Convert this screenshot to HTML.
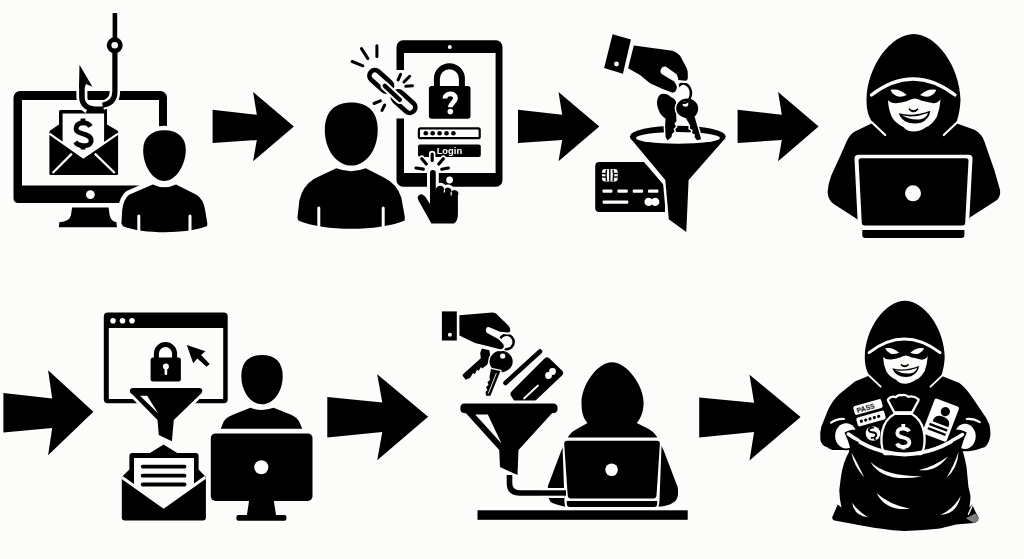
<!DOCTYPE html>
<html><head><meta charset="utf-8"><style>
html,body{margin:0;padding:0;background:#fcfcfa;}
svg{display:block;}
</style></head><body>
<svg width="1024" height="559" viewBox="0 0 1024 559" font-family="Liberation Sans, sans-serif">
<defs><filter id="gs" x="-5%" y="-5%" width="110%" height="110%"><feOffset dx="0" dy="0"/></filter></defs>
<rect width="1024" height="559" fill="#fcfcfa"/>
<g fill="#000">
<!-- ================= ROW 1 ================= -->
<!-- arrows -->
<polygon points="212.6,109.8 256.8,114.8 253.1,91.9 293.9,126.5 253.1,161.3 256.8,140 212.6,143"/>
<polygon points="518,109.8 562.2,114.8 558.5,91.9 599.3,126.5 558.5,161.3 562.2,140 518,143"/>
<polygon points="737.6,109.8 781.8,114.8 778.1,91.9 818.6,126.5 778.1,161.3 781.8,140 737.6,143"/>

<!-- ICON 1: phishing monitor -->
<path fill-rule="evenodd" d="M20,91 H160.5 A6.5,6.5 0 0 1 167,97.5 V198.6 A4.5,4.5 0 0 1 162.5,203.1 H18 A4.5,4.5 0 0 1 13.5,198.6 V97.5 A6.5,6.5 0 0 1 20,91 Z M22,100 V185.5 H159 V100 Z"/>
<circle cx="90.4" cy="194.6" r="4.4" fill="#fcfcfa"/>
<path d="M72.1,207.6 H108.6 L109.6,215 Q111,221.5 116.5,222.3 L116.9,227.2 H58.9 L59.3,222.3 Q69.8,221.5 71,215 Z"/>
<!-- envelope -->
<rect x="49.4" y="130.8" width="68.7" height="44.3" rx="1.5"/>
<polygon points="49.4,131 59,124.5 107,124.5 118.1,131"/>
<!-- letter -->
<rect x="59" y="110" width="48" height="40" rx="1.5"/>
<polygon fill="#fcfcfa" points="62.6,113.6 104.1,113.6 104.1,143.4 83.3,157.5 62.6,142.9"/>
<!-- front flap V line -->
<polyline points="49.4,133.6 83.3,157.5 118.1,133.6" fill="none" stroke="#fcfcfa" stroke-width="2.2"/>
<line x1="52.6" y1="173" x2="71.9" y2="153.6" stroke="#fcfcfa" stroke-width="2.2"/>
<line x1="114.8" y1="173" x2="94.8" y2="153.6" stroke="#fcfcfa" stroke-width="2.2"/>
<!-- dollar -->
<g fill="none" stroke="#000" stroke-width="4.8" stroke-linecap="butt">
<path d="M90.5,126.5 C88,122 78.5,121.5 76.5,126.5 C74.5,132 80,133 83,133.8 C88,135 92,137 91,141.8 C89.5,147 79,147 75.3,142"/>
<path d="M83,118.6 V123 M83,145 V149.4"/>
</g>
<!-- hook -->
<g fill="none" stroke-linecap="butt">
<path d="M114.9,13 V38" stroke="#000" stroke-width="4.6"/>
<circle cx="114.7" cy="45.3" r="5.65" stroke="#000" stroke-width="4.7"/>
<path d="M114.9,84 V91.5 C114.9,100 110,104 103.5,105.5" stroke="#fcfcfa" stroke-width="10.4"/>
<path d="M81.9,84 V97 C81.9,103 84,106 88,108" stroke="#fcfcfa" stroke-width="11"/>
<path d="M81.9,84 V97 C81.9,105 88,109 96,109.2 H107" stroke="#000" stroke-width="5.6"/>
<path d="M114.9,92 C114.9,100 110.5,104 103,105.6" stroke="#fcfcfa" stroke-width="8.6"/>
<path d="M114.9,50 V91.5 C114.9,99.5 110.5,104 102.5,105.2" stroke="#000" stroke-width="5.2"/>
</g>
<polygon points="79.5,64.7 92.4,86.7 86,84 84.8,87.5 79,87.5"/>
<!-- person 1 -->
<g stroke="#fcfcfa" stroke-width="9" paint-order="stroke">
<path d="M152.8,184.4 Q164.4,190 176,184.4 L196.4,194.8 Q203.4,199 205.1,210 L207.4,223.8 Q207,226 206.9,226 C187,234.2 143,234.2 123.1,226.2 L121.4,223.8 L122.2,209.9 Q123.7,199 129,194.8 Z"/>
<path d="M164.5,130.3 C177.5,130.3 186,137.5 185.8,150 C185.6,165 176,181 164.3,181 C152.5,181 143,165 143.2,150 C143.2,137.5 151.5,130.3 164.5,130.3 Z"/>
</g>
<g stroke="#fcfcfa" stroke-width="3" stroke-linecap="round">
<line x1="138.8" y1="216" x2="138.8" y2="236"/>
<line x1="190" y1="216" x2="190" y2="236"/>
</g>

<!-- ICON 2: person 2 + tablet -->
<!-- tablet -->
<path fill-rule="evenodd" d="M403,40.3 H496 A6.5,6.5 0 0 1 502.5,46.8 V180.2 A6.5,6.5 0 0 1 496,186.7 H403 A6.5,6.5 0 0 1 396.5,180.2 V46.8 A6.5,6.5 0 0 1 403,40.3 Z M404,52.9 V173 H495.6 V52.9 Z"/>
<circle cx="449.8" cy="47" r="2" fill="#fcfcfa"/>
<circle cx="449.6" cy="180" r="3.4" fill="#fcfcfa"/>
<!-- lock -->
<rect x="428.9" y="86" width="41.6" height="32.8" rx="2.8"/>
<path d="M436.9,87 V78.8 A12.5,12.5 0 0 1 461.9,78.8 V87" fill="none" stroke="#000" stroke-width="6"/>
<path d="M445,98.5 C445,92.5 455.5,92.5 455.5,98 C455.5,102.5 450.3,103 450.3,107.3" fill="none" stroke="#fcfcfa" stroke-width="4.8"/>
<circle cx="450.3" cy="111.6" r="2.8" fill="#fcfcfa"/>
<!-- password field -->
<rect x="418.9" y="128.4" width="60.8" height="9.8" rx="1.5" fill="#fcfcfa" stroke="#000" stroke-width="2.2"/>
<circle cx="425.8" cy="133.3" r="2.3"/><circle cx="432.7" cy="133.3" r="2.3"/><circle cx="439.6" cy="133.3" r="2.3"/><circle cx="446.5" cy="133.3" r="2.3"/><circle cx="453.4" cy="133.3" r="2.3"/>
<!-- login -->
<rect x="418" y="144.6" width="62.8" height="12.4" rx="2"/>
<text filter="url(#gs)" x="449.4" y="153.9" font-size="9.4" font-weight="bold" fill="#fcfcfa" text-anchor="middle">Login</text>
<!-- chain with halo -->
<rect x="395" y="70" width="10" height="48.5" fill="#fcfcfa"/>
<g fill="none" stroke-linecap="round">
<g stroke="#000" stroke-width="4.7">
<rect x="367.4" y="75.45" width="26.6" height="10.9" rx="5.45" transform="rotate(42 380.7 80.9)"/>
<rect x="390.7" y="96.65" width="26.6" height="10.9" rx="5.45" transform="rotate(42 404 102.1)"/>
</g>
<line x1="384.8" y1="85.8" x2="399.8" y2="99.8" stroke="#fcfcfa" stroke-width="8.6"/>
<line x1="384.8" y1="85.8" x2="399.8" y2="99.8" stroke="#000" stroke-width="4.4"/>
<g stroke="#000" stroke-width="3">
<line x1="352.2" y1="61.5" x2="362.9" y2="65.8"/>
<line x1="361.5" y1="48.6" x2="367.9" y2="58.6"/>
<line x1="376.9" y1="45.7" x2="376.9" y2="56.5"/>
<line x1="398.1" y1="79.9" x2="400.6" y2="74.3"/>
<line x1="404" y1="82" x2="409.7" y2="76.3"/>
<line x1="405.8" y1="86.3" x2="412.4" y2="85.8"/>
<line x1="374" y1="103.5" x2="380.4" y2="100.8"/>
<line x1="382" y1="110.4" x2="384.7" y2="105"/>
</g>
</g>
<!-- person 2 -->
<g stroke="#fcfcfa" stroke-width="6" paint-order="stroke">
<path d="M336.3,168.3 Q351,174 365.8,168.3 L383.9,177.4 Q397.3,184 401.3,197.6 L404.7,216.3 L404.7,220.4 C378,231.5 324.5,231.5 298.3,220.4 L297.4,217.7 L299.4,200.2 Q302.7,186 314.1,178.8 Z"/>
<path d="M351.3,102.6 C368,102.6 377.7,112 377.7,130 C377.7,150 366,165.6 351.3,165.6 C336.6,165.6 324.8,150 324.8,130 C324.8,112 334.6,102.6 351.3,102.6 Z"/>
</g>
<g stroke="#fcfcfa" stroke-width="3" stroke-linecap="round">
<line x1="318.8" y1="208" x2="318.8" y2="232"/>
<line x1="383.2" y1="208" x2="383.2" y2="232"/>
</g>
<!-- hand pointing -->
<g stroke="#fcfcfa" stroke-width="6" paint-order="stroke" stroke-linejoin="round">
<path d="M430,204 V172.9 A2.9,2.9 0 0 1 435.8,172.9 V190 A4.2,4.2 0 0 1 444.4,190 A3.4,3.4 0 0 1 451.2,192.2 A3.35,3.35 0 0 1 457.9,195.5 V214.3 Q457.9,221 454,223.6 H431.4 L418.5,200.5 Q416.5,196.5 419.5,194.8 Q422.5,193.3 425.5,197 L430,204 Z"/>
</g>
<path d="M444.4,189.5 V192.5 M451.2,192 V195.5" stroke="#fcfcfa" stroke-width="1.2" fill="none"/>
<g stroke="#fcfcfa" stroke-width="6.5" stroke-linecap="round" fill="none">
<line x1="432.2" y1="154" x2="432.2" y2="160.5"/>
<line x1="421.8" y1="158.8" x2="426.3" y2="164"/>
<line x1="443.3" y1="158.8" x2="438.8" y2="164"/>
</g>
<g stroke="#000" stroke-width="3.2" stroke-linecap="round" fill="none">
<line x1="432.2" y1="154" x2="432.2" y2="160.5"/>
<line x1="421.8" y1="158.8" x2="426.3" y2="164"/>
<line x1="443.3" y1="158.8" x2="438.8" y2="164"/>
<line x1="416" y1="168" x2="423.3" y2="169.2"/>
<line x1="441.8" y1="169.2" x2="448.4" y2="168"/>
</g>

<!-- ICON 3: hand keys funnel card -->
<!-- card -->
<path d="M599.2,162.1 H644 L663.3,184.6 Q665,186 665,188 V212 H599.2 Q595.2,212 595.2,208 V166.1 Q595.2,162.1 599.2,162.1 Z" stroke="#fcfcfa" stroke-width="0"/>
<g fill="#fcfcfa">
<rect x="602.5" y="189.4" width="9.9" height="3.4" rx="1"/>
<rect x="617.4" y="189.4" width="10.4" height="3.4" rx="1"/>
<rect x="632.7" y="189.4" width="10.4" height="3.4" rx="1"/>
<rect x="648" y="189.4" width="10.4" height="3.4" rx="1"/>
<rect x="602.6" y="200.6" width="25.7" height="3.2" rx="1"/>
<circle cx="648.6" cy="201.9" r="4.2"/><circle cx="655.2" cy="201.9" r="4.2"/>
<rect x="602" y="169" width="15.7" height="12.4" rx="3"/>
</g>
<g fill="none" stroke="#000" stroke-width="1.4">
<line x1="609.8" y1="169" x2="609.8" y2="181.4"/>
<path d="M606.5,169.5 Q605.5,175.2 606.5,181 M613.1,169.5 Q614.1,175.2 613.1,181"/>
<line x1="602" y1="173.5" x2="606" y2="173.5"/><line x1="602" y1="177" x2="606" y2="177"/>
<line x1="613.7" y1="173.5" x2="617.7" y2="173.5"/><line x1="613.7" y1="177" x2="617.7" y2="177"/>
</g>
<!-- funnel -->
<g fill="#fcfcfa" stroke="#fcfcfa" stroke-width="5">
<path d="M630.2,138 L665.3,180 L668.8,219.3 L686.3,232 L688.6,180 L725.5,138 Z"/>
<ellipse cx="677.8" cy="136.5" rx="48" ry="11"/>
</g>
<path d="M630.2,138 L665.3,180 L668.8,219.3 L686.3,232 L688.6,180 L725.5,138 Z"/>
<ellipse cx="677.8" cy="136.5" rx="48" ry="10.8"/>
<ellipse cx="678" cy="137.9" rx="42" ry="5.9" fill="#fcfcfa"/>
<!-- cuff -->
<polygon points="612.6,34.2 630.9,39.5 622.9,73.8 604.1,68.1"/>
<circle cx="616.5" cy="64" r="2.4" fill="#fcfcfa"/>
<!-- keys -->
<g stroke="#fcfcfa" stroke-width="3" paint-order="stroke" stroke-linejoin="round">
<path d="M661.6,94 Q667,93 671,97 Q676,99 676.5,104 Q677.5,110 676.2,116 L676.5,121 L674.5,123.5 L676,126.5 L673.5,129 L674.5,131.5 L672,134 L671.5,137 L667.4,140.5 L665.6,137 L665.1,126 L665.5,118.4 Q661,116 659,111 Q656,104 657.5,99 Q659,94.5 661.6,94 Z"/>
<path d="M687.2,98.5 C693.5,98.5 698.2,103 698.2,108.5 C698.2,112.5 696,115.5 694.5,116.5 L701.2,139.3 L697,140.2 L694.5,137 L695,134.5 L692,133 L692.7,130 L689.8,128.5 L690.2,125.5 L685.8,118 C680.5,117 676.2,113.5 676.2,108.5 C676.2,103 680.9,98.5 687.2,98.5 Z"/>
</g>
<circle cx="685.5" cy="103.8" r="2.9" fill="#fcfcfa"/>
<path d="M676.6,89.9 A7.4,9.6 0 1 1 682.3,102.65" fill="none" stroke="#000" stroke-width="2.5"/>
<!-- hand -->
<path stroke="#fcfcfa" stroke-width="4.4" paint-order="stroke" stroke-linejoin="round" d="M633.8,45.6 L672.6,50.7 Q677,52 680.1,55.7 L686.4,67.6 Q688,71 687.8,74 L687.8,78.3 Q687.5,80.8 685.4,80.8 L678.2,80 L678.2,78.3 L676.6,74.3 L666.1,66.7 A4.4,4.4 0 0 0 662.1,74.3 L674.2,81.6 L676,84.5 Q677.5,87 676.6,88.8 Q675.5,93 672,92.6 L662.1,88.8 L650,83.2 L640,75.1 L628.1,68.2 Z"/>

<!-- ICON 4: hacker 1 -->
<path d="M956.2,123.2 L974.4,129.8 Q982,134 984.4,141.5 L994.3,170 L1000,189.7 Q1001,196 997,200 L969.8,217.5 L966,228 H861 L857.4,219.2 L833.7,204 Q828,200 827.6,192 Q828,184 831.4,175.2 L840,156.4 L846.6,141.5 Q850,134 854.9,131.5 L872.5,123 L913,118 Z"/>
<g>
<path d="M913.8,33.9 C936,34 960,66 960.5,100 C960,112 957.5,118.5 956.5,122.5 L944,135 H885 L872.5,122.5 C868.5,117 866.5,110 866.5,100 C867,66 891,34 913.8,33.9 Z"/>
<g fill="none" stroke="#fcfcfa" stroke-width="2.2" stroke-linecap="round">
<path d="M871.5,122 L885.2,135"/>
<path d="M957.5,122 L943.8,135"/>
</g>
<path d="M871.5,95 Q913,63 955,95" fill="none" stroke="#fcfcfa" stroke-width="3.4" stroke-linecap="round"/>
<path fill="#fcfcfa" d="M888,92 Q913,82 938.7,92 L940.5,99.7 Q940,108 937,116.5 Q932,125 926.5,127 Q920,131.6 913.7,131.6 Q907,131.6 903.3,127 Q895,123 891.6,116.5 Q888,108 888.1,100.2 Z"/>
<path d="M886,88 Q913,78 940,88 L940.5,99.7 Q936,104 932.3,103.1 Q926,101.5 921.9,100.8 Q918,99 914.9,98.5 Q911,99 907.9,100.8 Q903,102.5 897.4,103.1 Q891,103.5 888.1,100.2 Z"/>
<path fill="#fcfcfa" d="M890.5,89.8 Q899.5,88 906.8,95 Q901,97.8 896.5,96 Q892,94 890.5,89.8 Z"/>
<path fill="#fcfcfa" d="M936.3,89.8 Q927.3,88 920,95 Q925.8,97.8 930.3,96 Q934.8,94 936.3,89.8 Z"/>
<path d="M909,109 Q913.5,112.5 918,109 Q913.5,114 909,109 Z" stroke="#000" stroke-width="1.5"/>
<path d="M898.8,113.3 Q913,117.2 930.3,110.8 Q929.5,119 921,122.8 Q912,125 905,121.2 Q900.3,118 898.8,113.3 Z"/>
<path fill="#fcfcfa" d="M901.8,115.3 Q914,118.3 928,113 Q926.8,117.6 921,119.2 Q911.5,120.8 901.8,115.3 Z"/>
</g>
<!-- laptop -->
<path d="M858.5,154.7 H968.7 Q972.7,154.7 972.5,158.7 L969,224.4 Q968.8,228.4 964.8,228.4 H862 Q858,228.4 857.8,224.4 L854.5,158.7 Q854.5,154.7 858.5,154.7 Z" fill="#fcfcfa"/>
<path d="M861,158.3 H966 Q968.6,158.3 968.5,161 L965.2,223 Q965,225.5 962.5,225.5 H864.5 Q862,225.5 861.8,223 L858.6,161 Q858.5,158.3 861,158.3 Z"/>
<circle cx="913" cy="193.3" r="8" fill="#fcfcfa"/>
<path d="M862.3,230 H964.4 V235 Q964.4,238 961.4,238 H865.3 Q862.3,238 862.3,235 Z"/>
<rect x="855" y="228.4" width="120" height="1.6" fill="#fcfcfa"/>

<!-- ================= ROW 2 ================= -->
<polygon points="3.4,393 52.2,398.5 48.1,370.2 93.4,411.8 48.1,455.3 52.2,427.9 3.4,432.4"/>
<polygon points="327.3,397.1 382.3,402.4 377.2,374.2 428.1,416.8 377.2,460.3 382.3,432.1 327.3,437.4"/>
<polygon points="699.2,397.6 754.1,402.7 749.5,374.7 800.6,416.9 749.5,460.4 754.1,432 699.2,437.5"/>

<!-- ICON 5: browser + funnel + envelope + person/monitor -->
<path fill-rule="evenodd" d="M107.8,312.5 H223.7 A4,4 0 0 1 227.7,316.5 V399.2 A4,4 0 0 1 223.7,403.2 H107.8 A4,4 0 0 1 103.8,399.2 V316.5 A4,4 0 0 1 107.8,312.5 Z M108.8,328 V398.9 H223.2 V328 Z"/>
<g fill="#fcfcfa"><circle cx="113" cy="320.8" r="2.8"/><circle cx="122.5" cy="320.8" r="2.8"/><circle cx="132" cy="320.8" r="2.8"/></g>
<rect x="150.6" y="357.6" width="30.3" height="23.8" rx="2.5"/>
<path d="M156.4,358.5 V353.6 A9.1,9.1 0 0 1 174.6,353.6 V358.5" fill="none" stroke="#000" stroke-width="5"/>
<circle cx="165.9" cy="366.4" r="3" fill="#fcfcfa"/>
<rect x="164.6" y="366.4" width="2.6" height="8.6" rx="1" fill="#fcfcfa"/>
<polygon points="186.8,345 205.4,351.3 201.1,355 209.7,364 206.5,366.8 197.3,358.5 193.2,363.3"/>
<!-- funnel 2a -->
<g stroke="#fcfcfa" stroke-width="6" paint-order="stroke" stroke-linejoin="round">
<path d="M133,388.1 H199 Q202.5,388.1 202.3,391 Q202,393.8 200.1,394.4 L173.8,420 L171.9,441.3 L158.8,435 L157.5,420 L132.5,394.4 Q129.8,393.5 129.8,391 Q130,388.1 133,388.1 Z"/>
</g>
<polygon fill="#fcfcfa" points="140,395.8 147.2,395.8 158.2,413.5"/>
<!-- envelope 2 -->
<polygon points="163.6,444.6 150,452.9 177.3,452.9"/>
<path d="M121.8,477 L129.4,469.6 L198.6,469.6 L205.9,477 V517.5 Q205.9,520.5 202.9,520.5 H124.8 Q121.8,520.5 121.8,517.5 Z"/>
<rect x="129.4" y="452.9" width="69.2" height="40" rx="3"/>
<path fill="#fcfcfa" d="M134,458 H194 V485.3 L163.6,506.9 L134,485.9 Z"/>
<polyline points="121.8,477.2 163.6,506.9 205.4,477.2" fill="none" stroke="#fcfcfa" stroke-width="3"/>
<g stroke="#000" stroke-width="3.8" stroke-linecap="round">
<line x1="142.7" y1="466.6" x2="184.5" y2="466.6"/>
<line x1="142.7" y1="475.7" x2="184.5" y2="475.7"/>
<line x1="142.7" y1="484.5" x2="184.5" y2="484.5"/>
</g>
<!-- person row2 -->
<path d="M250.4,407.8 Q262,412 273.7,407.8 L291.1,414.8 Q297,417.5 299.3,421.8 L302.3,428.8 H220.8 L223.6,421.8 Q226,417.5 232.9,414.8 Z"/>
<path stroke="#fcfcfa" stroke-width="6" paint-order="stroke" d="M262,354.9 C275,354.9 282.7,362 282.7,376 C282.7,392 273,404.3 262,404.3 C251,404.3 241.3,392 241.3,376 C241.3,362 249,354.9 262,354.9 Z"/>
<!-- monitor row2 -->
<rect x="210.8" y="433.4" width="101.7" height="67.5" rx="4.7"/>
<circle cx="261.3" cy="467.2" r="7" fill="#fcfcfa"/>
<path d="M249.2,500 H273.7 L276,514.9 H246.9 Z"/>
<rect x="236.4" y="514.9" width="50.1" height="5.8" rx="2.2"/>

<!-- ICON 6: hand/keys/card/funnel/hacker2 -->
<rect x="441.9" y="311.4" width="14.9" height="29.1"/>
<circle cx="449.9" cy="334.8" r="2" fill="#fcfcfa"/>

<!-- card -->
<g stroke="#fcfcfa" stroke-width="3" paint-order="stroke">
<line x1="505.5" y1="383" x2="540" y2="351.5" stroke="#000" stroke-width="4.6" stroke-linecap="round"/>
</g>
<path stroke="#fcfcfa" stroke-width="3" paint-order="stroke" d="M512,391 L545,358 Q547,356.5 549,358 L562.5,371 Q564,373 562.5,375 L534,402 L515,402 L510.5,395 Q509.8,393 512,391 Z"/>
<circle cx="548.5" cy="375.5" r="3.4" fill="#fcfcfa"/><circle cx="552.5" cy="371.5" r="3.4" fill="#fcfcfa"/>
<line x1="524" y1="398.5" x2="538" y2="385.5" stroke="#fcfcfa" stroke-width="1.8" stroke-linecap="round"/>
<!-- keys row2 -->
<g stroke="#fcfcfa" stroke-width="2.6" paint-order="stroke" stroke-linejoin="round">
<path d="M481.8,348.6 L489.3,350.2 L490.4,356.1 L487.2,364.7 L483.5,367.5 L482.4,368.4 L481,367 L478.6,371.1 L477,369.5 L474.8,374.3 L473,373 L470,378.1 L465.7,379.7 L462.5,375.4 L463,374.3 L480.8,358.2 L480.2,352.9 Z"/>
<ellipse cx="501.1" cy="361.5" rx="11.6" ry="10.7"/>
<path d="M491,369 L500.5,371 L490.4,395.8 L486.1,395.8 L485.5,392 L487.5,390 L486,387 L488.5,385 L487.5,382 L490,380 L489.5,377 Z"/>
</g>
<line x1="496.3" y1="373.3" x2="488.3" y2="393.6" stroke="#fcfcfa" stroke-width="0.9"/>
<circle cx="502.7" cy="356.1" r="2.6" fill="#fcfcfa"/>
<circle cx="506.5" cy="342" r="7.2" fill="none" stroke="#000" stroke-width="2.5"/>
<path stroke="#fcfcfa" stroke-width="4" paint-order="stroke" stroke-linejoin="round" d="M459.4,315.3 L492.4,312.4 Q495,312.3 496.5,314 L508.6,325.7 Q510.5,328 510.2,331 Q509.8,332.5 508,332.5 L500,331.8 L489.3,327.2 Q486.3,326.5 485.8,329.5 Q485.8,332 487.2,332.9 L498.6,339.3 L502.2,342.9 Q504.5,345 503.6,347.5 Q502.5,349.5 500,349.3 L489.3,346.5 L475,342.9 L459.4,335.5 Z"/>
<!-- funnel 2b -->
<g stroke="#fcfcfa" stroke-width="6" paint-order="stroke" stroke-linejoin="round">
<path d="M464.5,403.5 H553 Q557.6,403.5 557.6,408.4 Q557.6,413.3 552,413.3 L518.5,450 L517.5,475.1 L500,467.1 L499.2,450 L466,413.3 Q460.3,413.3 460.3,408.4 Q460.3,403.5 464.5,403.5 Z"/>
</g>
<polygon fill="#fcfcfa" points="475.2,414.5 487.8,414.5 501.5,443.5"/>
<!-- pipe -->
<path d="M509.5,475 V483 Q509.5,493 519.5,493 H566" fill="none" stroke="#000" stroke-width="5.6"/>
<!-- desk -->
<rect x="477.5" y="510.3" width="210.2" height="9.5"/>
<!-- hacker 2 -->
<path d="M612.1,362.3 C627,362.3 643.8,386 643.6,402.6 C643.5,412 641,418 636.8,423 L648.7,429 Q654,432 656.3,435.7 L663.5,450 L677.8,487.6 Q679,496 676,500.2 Q672,505 661.7,506.4 H564.2 Q553,504 550.7,502 Q546.5,496 548,485.8 L561.5,450 L568.8,435.7 Q571,432 575.6,429.8 L587.5,423 C583,418 581.5,412 581.5,402.6 C581.3,386 597,362.3 612.1,362.3 Z"/>
<path fill="#fcfcfa" d="M566,437.5 H658 Q661.7,437.5 661.7,441 L659.5,500 Q659.3,509 655,509 H568 Q564.5,509 564.4,500 L562.4,441 Q562.4,437.5 566,437.5 Z"/>
<path d="M567.2,440.7 H657 Q659.9,440.7 659.9,443.7 L656.5,495.4 Q656.3,498.4 653.3,498.4 H570.9 Q567.9,498.4 567.7,495.4 L564.2,443.7 Q564.2,440.7 567.2,440.7 Z"/>
<circle cx="611.6" cy="469.7" r="6.3" fill="#fcfcfa"/>
<path d="M566.8,501.1 H657.2 V504 Q657.2,507 654.2,507 H569.8 Q566.8,507 566.8,504 Z"/>
<rect x="540" y="488" width="24" height="10" fill="#fcfcfa"/>
<rect x="540" y="490.3" width="26" height="5.4"/>

<!-- ICON 7: hacker 3 with money sack -->
<path d="M872,374.4 L855.3,381.3 L839.2,394.2 Q832,401 827.9,410.3 L821.4,426.4 Q819.5,433 820.4,440 Q822,446 826.8,446.9 Q830,450 835.4,450.1 H851.5 L969,451.2 Q976.5,450.1 985.1,446.9 Q989.4,443 990.4,435 Q990.5,429.7 989.5,425 L986.2,417.9 L972.3,397.4 Q966,388 959.4,382.9 L938.1,374.4 L905,370 Z"/>
<g transform="translate(905,300.7) scale(0.85) translate(-913.8,-33.9)">
<path d="M913.8,33.9 C936,34 960,66 960.5,100 C960,112 957.5,118.5 956.5,122.5 L944,135 H885 L872.5,122.5 C868.5,117 866.5,110 866.5,100 C867,66 891,34 913.8,33.9 Z"/>
<g fill="none" stroke="#fcfcfa" stroke-width="2.2" stroke-linecap="round">
<path d="M871.5,122 L885.2,135"/>
<path d="M957.5,122 L943.8,135"/>
</g>
<path d="M871.5,95 Q913,63 955,95" fill="none" stroke="#fcfcfa" stroke-width="3.4" stroke-linecap="round"/>
<path fill="#fcfcfa" d="M888,92 Q913,82 938.7,92 L940.5,99.7 Q940,108 937,116.5 Q932,125 926.5,127 Q920,131.6 913.7,131.6 Q907,131.6 903.3,127 Q895,123 891.6,116.5 Q888,108 888.1,100.2 Z"/>
<path d="M886,88 Q913,78 940,88 L940.5,99.7 Q936,104 932.3,103.1 Q926,101.5 921.9,100.8 Q918,99 914.9,98.5 Q911,99 907.9,100.8 Q903,102.5 897.4,103.1 Q891,103.5 888.1,100.2 Z"/>
<path fill="#fcfcfa" d="M890.5,89.8 Q899.5,88 906.8,95 Q901,97.8 896.5,96 Q892,94 890.5,89.8 Z"/>
<path fill="#fcfcfa" d="M936.3,89.8 Q927.3,88 920,95 Q925.8,97.8 930.3,96 Q934.8,94 936.3,89.8 Z"/>
<path d="M909,109 Q913.5,112.5 918,109 Q913.5,114 909,109 Z" stroke="#000" stroke-width="1.5"/>
<path d="M898.8,113.3 Q913,117.2 930.3,110.8 Q929.5,119 921,122.8 Q912,125 905,121.2 Q900.3,118 898.8,113.3 Z"/>
<path fill="#fcfcfa" d="M901.8,115.3 Q914,118.3 928,113 Q926.8,117.6 921,119.2 Q911.5,120.8 901.8,115.3 Z"/>
</g>
<!-- sack -->
<path d="M849,445 L849,452 Q843,462 840.9,477.2 L839.3,490 Q839.5,500 841.5,507.5 L837.7,504.5 L832.1,517.4 Q832.5,520 834.5,520.6 L852.2,523.8 Q868,527 880,528.6 Q893,531 904.6,531 Q925,530.5 940,528.6 L956.1,524.6 L973.8,523 Q977.8,522 978.6,517.4 L975.4,511.7 L972.2,504.5 L969.3,507.5 Q970.8,500 970.3,495 L968.4,486.4 L966.6,467.6 Q965,458 962.8,451.5 L962.8,445 Z"/>
<path d="M965.8,518.2 L975.4,513.5 L978.6,517.4 Q979,520.5 977.8,521.4 L973.8,523 Z" fill="#7d7d7d"/>
<line x1="972.2" y1="505.8" x2="968.4" y2="514.2" stroke="#fcfcfa" stroke-width="1.4" stroke-linecap="round"/>
<g fill="#fcfcfa">
<path d="M870.4,461.7 Q883.1,483.7 922.1,476.2 Q885.2,476.4 870.4,461.7 Z"/>
<path d="M919.0,470.1 Q936.2,472.1 947.9,456.4 Q933.7,466.6 919.0,470.1 Z"/>
<path d="M851.4,452.6 Q853.5,465.5 864.3,477.7 Q857.6,463.4 851.4,452.6 Z"/>
<path d="M958.6,451.8 Q953.4,466.9 946.4,477.7 Q957.6,468.8 958.6,451.8 Z"/>
<path d="M876.5,492.9 Q885.6,511.2 909.9,508.8 Q888.8,504.3 876.5,492.9 Z"/>
<path d="M852.2,502.8 Q854.2,516.0 868.1,517.2 Q858.3,511.6 852.2,502.8 Z"/>
<path d="M940.3,514.9 Q956.5,514.4 960.8,495.9 Q952.4,510.0 940.3,514.9 Z"/>
</g>
<!-- cards -->
<g transform="rotate(-16 868 407)"><rect x="853.5" y="402.5" width="29" height="9" rx="2" fill="#fcfcfa"/>
<text filter="url(#gs)" x="856.2" y="410" font-size="7" font-weight="bold">PASS</text></g>
<g transform="rotate(-16 871 418.5)"><rect x="856.5" y="414" width="29" height="9" rx="2" fill="#fcfcfa"/>
<circle cx="861" cy="418.5" r="1.6"/><circle cx="865.5" cy="418.5" r="1.6"/><circle cx="870" cy="418.5" r="1.6"/><circle cx="874.5" cy="418.5" r="1.6"/><circle cx="879" cy="418.5" r="1.6"/></g>
<circle cx="873" cy="433.5" r="7.3" fill="#fcfcfa"/>
<path d="M875.5,428.5 C874,426.8 870,427.2 870,429.8 C870,432 875.5,432 875.5,435.2 C875.5,438 871,438.3 869.5,436.5 M872.8,425.5 V427.5 M872.8,438.2 V440.2" fill="none" stroke="#000" stroke-width="1.9" transform="rotate(-20 873 433)"/>
<g transform="rotate(21 940.7 420.1)"><rect x="927.7" y="401.4" width="26" height="37.5" rx="2" fill="#fcfcfa"/>
<circle cx="942" cy="410.5" r="4.6"/><path d="M933.5,424 Q933.5,416 942,416 Q950.5,416 950.5,424 Z"/>
<rect x="931.5" y="426.5" width="19" height="2.3"/><rect x="931.5" y="431" width="19" height="2.3"/></g>
<!-- money bag -->
<g stroke="#fcfcfa" stroke-width="4.6" paint-order="stroke" stroke-linejoin="round">
<path d="M889,400 Q892,396.5 896,398.5 Q899,395.2 902,396.5 Q905,395.2 908,398 Q913,396.5 917.5,400 L911.3,411.3 H895 Z"/>
<path d="M895,415 H911.3 Q920,420 922.5,431 Q925,443 921,453 H885 Q881,443 883.5,431 Q886,420 895,415 Z"/>
</g>
<line x1="894" y1="413.2" x2="912.3" y2="413.2" stroke="#fcfcfa" stroke-width="3.2"/>
<path d="M909,431.5 C907.5,427.8 898.5,427.5 897.5,432 C896.5,436 901,437 903.3,437.5 C907,438.3 910,440 909.2,443.5 C908,448 898.5,447.8 897,443.5 M903.3,424 V428.3 M903.3,446.8 V449.5" fill="none" stroke="#fcfcfa" stroke-width="3.8"/>
<!-- sack rim -->
<path d="M848.2,434 Q872,453 904.6,454.5 Q938,453 961.5,434.5" fill="none" stroke="#fcfcfa" stroke-width="3.8" stroke-linecap="round"/>
<!-- hands -->
<ellipse cx="846.1" cy="436" rx="13" ry="14.3"/>
<ellipse cx="965" cy="436.3" rx="13" ry="14.3"/>
<g fill="#fcfcfa">
<ellipse cx="846.1" cy="435.8" rx="11" ry="12.6"/>
<ellipse cx="965" cy="436.3" rx="10.7" ry="12.6"/>
</g>
<path d="M844.5,432.5 Q850,429 858.5,429.5 L858.5,449 L850.5,449 Q848.5,441 844.5,432.5 Z"/>
<path d="M966.8,432.5 Q961.5,429 953,429.5 L953,449.5 L960.8,449.5 Q962.8,441 966.8,432.5 Z"/>
<path d="M848.3,434 Q853,437.5 858,440" fill="none" stroke="#fcfcfa" stroke-width="3.5" stroke-linecap="round"/>
<path d="M962.5,434.5 Q958,437.5 953,440" fill="none" stroke="#fcfcfa" stroke-width="3.5" stroke-linecap="round"/>
<path d="M831.1,422.7 Q837,418.5 844,419" fill="none" stroke="#fcfcfa" stroke-width="2.2" stroke-linecap="round"/>
<path d="M966.8,419 Q974,418.5 979.7,422.2" fill="none" stroke="#fcfcfa" stroke-width="2.2" stroke-linecap="round"/>
</g>
</svg>
</body></html>
